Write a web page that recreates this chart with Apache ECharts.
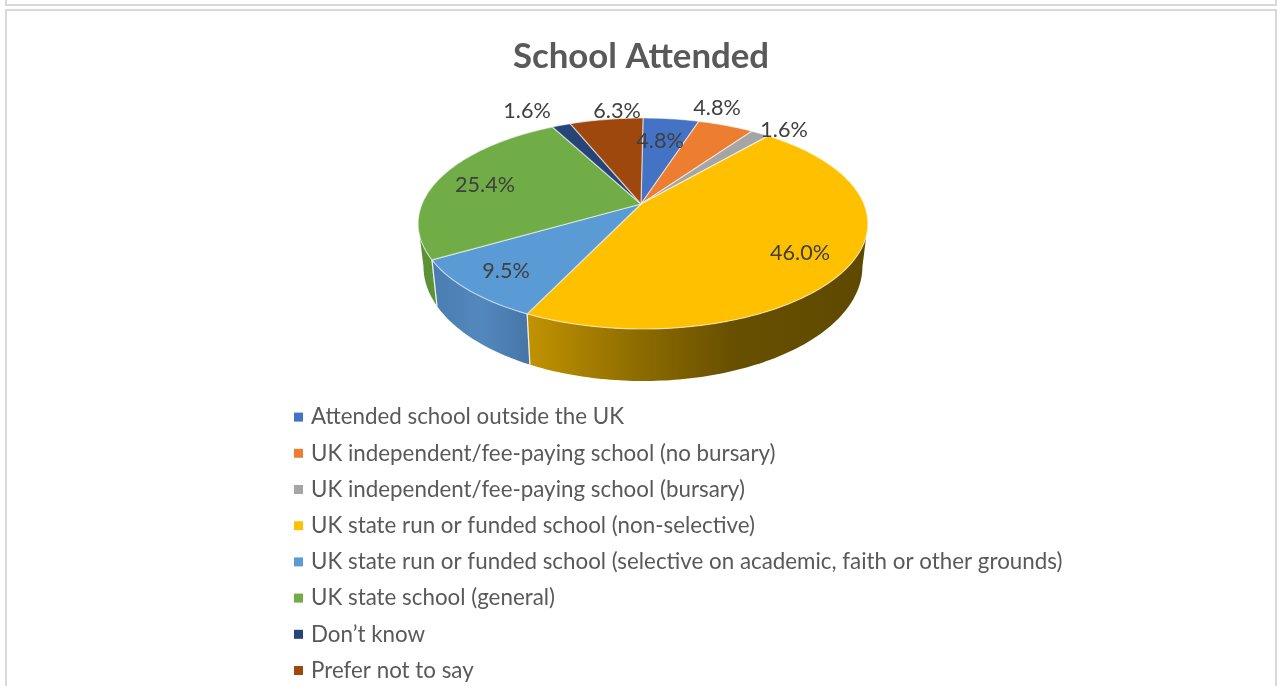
<!DOCTYPE html>
<html><head><meta charset="utf-8">
<style>html,body{margin:0;padding:0;background:#fff}#c{width:1280px;height:686px}</style>
<script src="https://cdn.jsdelivr.net/npm/echarts@6/dist/echarts.min.js"></script>
</head><body><div id="c"></div>
<script>
const categories = [
  "Attended school outside the UK",
  "UK independent/fee-paying school (no bursary)",
  "UK independent/fee-paying school (bursary)",
  "UK state run or funded school (non-selective)",
  "UK state run or funded school (selective on academic, faith or other grounds)",
  "UK state school (general)",
  "Don\u2019t know",
  "Prefer not to say"
];
const percents = [4.8, 4.8, 1.6, 46.0, 9.5, 25.4, 1.6, 6.3];
const colors = ["#4472C4", "#ED7D31", "#A5A5A5", "#FFC000", "#5B9BD5", "#70AD47", "#264478", "#9E480E"];
const wallStops = [
  null, null, null,
  [[0, "#C29300"], [0.33, "#8C6C00"], [0.6, "#685000"], [1, "#5E4900"]],
  [[0, "#4A7DB0"], [0.5, "#5388BE"], [1, "#4675A6"]],
  [[0, "#5B8F38"], [1, "#5F9338"]],
  null, null
];
// label offsets from the pie's apex (layout only)
const labelOffsets = [[19, -63], [76, -96], [143, -74], [159, 49], [-135, 67], [-156, -19], [-114, -93], [-24, -93]];

// perspective view of the pie disc
const apexX = 641, apexY = 204, rimShift = 2, radX = 221, tilt = 0.1848, slopeY = -64.2;
function project(deg) {
  const a = deg * Math.PI / 180, u = Math.sin(a), v = Math.cos(a), d = 1 + tilt * v;
  return [apexX + rimShift + radX * u / d, (apexY + slopeY * v) / d];
}
function lower(p) {
  return [apexX + (p[0] - apexX) * 0.976, p[1] + 52 + (p[1] - 329) * 0.086];
}
function arc(a0, a1) {
  const pts = [], n = Math.max(2, Math.ceil(Math.abs(a1 - a0)));
  for (let i = 0; i <= n; i++) pts.push(project(a0 + (a1 - a0) * i / n));
  return pts;
}
const silhouette = Math.acos(-tilt) * 180 / Math.PI;
const total = percents.reduce((s, v) => s + v, 0);
const edge = "rgba(255,255,255,0.55)";

function renderSlice(params, api) {
  const i = params.seriesIndex, val = api.value(0), before = api.value(1);
  const a0 = before / total * 360, a1 = (before + val) / total * 360;
  const children = [];
  const w0 = Math.max(a0, silhouette), w1 = Math.min(a1, 360 - silhouette);
  if (w1 > w0) {
    const top = arc(w0, w1), bot = top.map(lower).reverse();
    const xs = top.concat(bot).map(p => p[0]);
    const minX = Math.min(...xs), maxX = Math.max(...xs);
    const stops = (wallStops[i] || [[0, colors[i]], [1, colors[i]]]).map(s => ({offset: s[0], color: s[1]}));
    children.push({
      type: "polygon", z2: 1,
      shape: {points: top.concat(bot)},
      style: {fill: new echarts.graphic.LinearGradient(minX, 0, maxX, 0, stops, true)}
    });
    [a0, a1].forEach(a => {
      if (a >= silhouette && a < 360 - silhouette - 1) {
        const p = project(a), q = lower(p);
        children.push({type: "line", z2: 2, shape: {x1: p[0], y1: p[1], x2: q[0], y2: q[1]},
          style: {stroke: "rgba(255,255,255,0.6)", lineWidth: 1.2}});
      }
    });
  }
  children.push({
    type: "polygon", z2: 10,
    shape: {points: [[apexX, apexY]].concat(arc(a0, a1))},
    style: {fill: colors[i], stroke: edge, lineWidth: 1.2, lineJoin: "round"}
  });
  const off = labelOffsets[i];
  children.push({
    type: "text", z2: 20, x: apexX + off[0], y: apexY + off[1],
    style: {text: val.toFixed(1) + "%", fill: "#404040", font: "21.6px Lato", align: "center", verticalAlign: "middle"}
  });
  return {type: "group", children};
}

let running = 0;
const series = categories.map((name, i) => {
  const item = [percents[i], running];
  running += percents[i];
  return {
    type: "custom", name, coordinateSystem: "none", renderItem: renderSlice,
    itemStyle: {color: colors[i]}, data: [item], silent: true, animation: false
  };
});

const chart = echarts.init(document.getElementById("c"), null, {renderer: "canvas"});
chart.setOption({
  animation: false,
  backgroundColor: "#fff",
  title: {
    text: "School Attended", left: 636, top: 34, textAlign: "center",
    textStyle: {fontFamily: "Lato", fontWeight: "bold", fontSize: 34.8, color: "#595959"}
  },
  legend: {
    orient: "vertical", left: 294, top: 405, padding: 0, icon: "rect", itemWidth: 9, itemHeight: 9, itemGap: 12,
    selectedMode: false, data: categories,
    textStyle: {fontFamily: "Lato", fontSize: 22.35, color: "#595959", lineHeight: 24.2, height: 24.2, padding: [0, 0, 0, 3]}
  },
  graphic: [
    {type: "rect", silent: true, shape: {x: 6, y: 10, width: 1270, height: 720}, style: {fill: "none", stroke: "#D9D9D9", lineWidth: 2}},
    {type: "rect", silent: true, shape: {x: 6, y: -100, width: 1270, height: 105}, style: {fill: "none", stroke: "#D9D9D9", lineWidth: 2}}
  ],
  series
});
</script></body></html>
